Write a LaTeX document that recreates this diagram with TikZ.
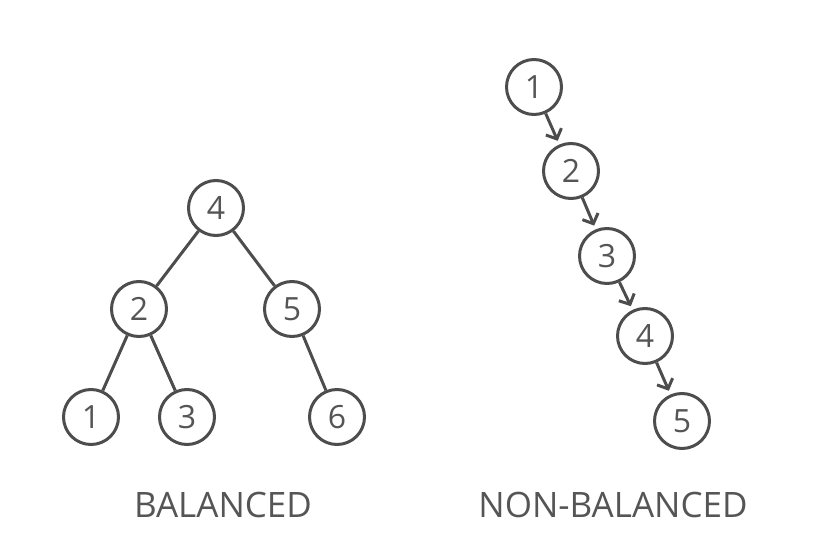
\documentclass[tikz,border=0pt]{standalone}
\usepackage{fontspec}
\setmainfont{Open Sans}
\usepackage{tikz}
\usetikzlibrary{arrows.meta}

\definecolor{cinza}{HTML}{4D4D4D}
\definecolor{cinzatexto}{HTML}{555555}

\begin{document}
\begin{tikzpicture}[x=1pt,y=-1pt]
			\tikzstyle{vertice} = [circle, draw=cinza, line width=3pt, minimum size=55pt, inner sep=0pt,
				text=cinzatexto, font=\fontsize{32}{32}\selectfont]
			\tikzstyle{aresta} = [draw=cinza, line width=3pt]
			\tikzstyle{seta} = [aresta, -{Straight Barb[length=8pt,width=17pt]}, shorten >=4pt]
			\tikzstyle{titulo} = [text=cinzatexto, font=\fontsize{35}{35}\selectfont, anchor=base]
			\useasboundingbox (0,0) rectangle (832,548);
			% arvore balanceada
			\node[vertice] (b4) at (216,208) {4};
			\node[vertice] (b2) at (139,309) {2};
			\node[vertice] (b5) at (292,309) {5};
			\node[vertice] (b1) at (91,417) {1};
			\node[vertice] (b3) at (187,417) {3};
			\node[vertice] (b6) at (337,417) {6};
			\draw[aresta] (b4) -- (b2);
			\draw[aresta] (b4) -- (b5);
			\draw[aresta] (b2) -- (b1);
			\draw[aresta] (b2) -- (b3);
			\draw[aresta] (b5) -- (b6);
			% arvore nao balanceada
			\node[vertice] (n1) at (534,87) {1};
			\node[vertice] (n2) at (571,171) {2};
			\node[vertice] (n3) at (607,256) {3};
			\node[vertice] (n4) at (645,336) {4};
			\node[vertice] (n5) at (682,421) {5};
			\foreach \a/\b in {n1/n2, n2/n3, n3/n4, n4/n5}
				\draw[seta] (\a) -- (\b);
			% legendas
			\node[titulo] (tb) at (223,517) {BALANCED};
			\node[titulo] (tn) at (613,517) {NON-BALANCED};
		\end{tikzpicture}
\end{document}
